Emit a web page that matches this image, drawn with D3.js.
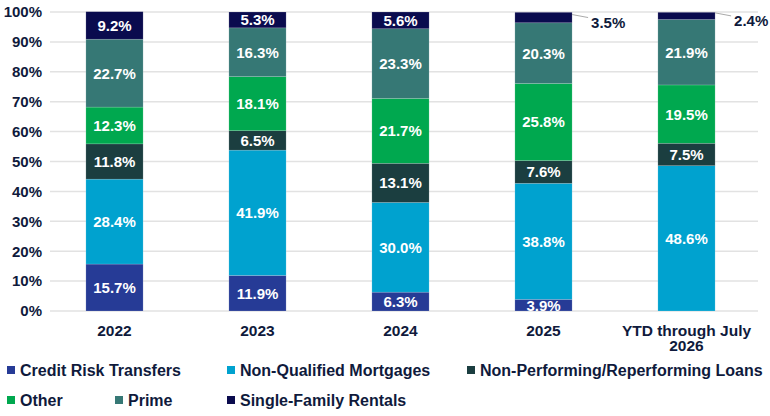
<!DOCTYPE html>
<html>
<head>
<meta charset="utf-8">
<script src="https://cdn.jsdelivr.net/npm/d3@7"></script>
<style>
  body { margin: 0; background: #fff; }
  svg { display: block; font-family: "Liberation Sans", Arial, sans-serif; font-weight: bold; }
  .tick text { font-family: "Liberation Sans", Arial, sans-serif; font-weight: bold; }
</style>
</head>
<body>
<svg id="chart" width="770" height="416"></svg>
<script>
const years = ["2022", "2023", "2024", "2025", "YTD through July 2026"];
const series = ["Credit Risk Transfers", "Non-Qualified Mortgages", "Non-Performing/Reperforming Loans", "Other", "Prime", "Single-Family Rentals"];
const colors = ["#263b96", "#00a2cf", "#1b3e40", "#00a84f", "#367875", "#0a0b4e"];

const crt   = [15.7, 11.9, 6.3, 3.9, 0];
const nqm   = [28.4, 41.9, 30.0, 38.8, 48.6];
const npl   = [11.8, 6.5, 13.1, 7.6, 7.5];
const other = [12.3, 18.1, 21.7, 25.8, 19.5];
const prime = [22.7, 16.3, 23.3, 20.3, 21.9];
const sfr   = [9.2, 5.3, 5.6, 3.5, 2.4];
const yTicks = [0, 10, 20, 30, 40, 50, 60, 70, 80, 90, 100];

const valueLists = [crt, nqm, npl, other, prime, sfr];
const rows = years.map((y, i) => {
  let r = {year: y};
  series.forEach((s, j) => r[s] = valueLists[j][i]);
  return r;
});

const svg = d3.select('#chart');
const margin = {left: 43, right: 12, top: 12, bottom: 105};
const W = 770, H = 416;
const ink = "#0f1a3c";

const x = d3.scaleBand().domain(years)
  .range([margin.left, W - margin.right]).paddingInner(0.6).paddingOuter(0.3);
const y = d3.scaleLinear().domain([0, 100]).range([H - margin.bottom, margin.top]);

// gridlines
svg.append('g').selectAll('line').data(yTicks).enter().append('line')
  .attr('x1', 50).attr('x2', 758)
  .attr('y1', d => y(d)).attr('y2', d => y(d))
  .attr('stroke', '#e2e2e2').attr('stroke-width', 1.5);

// y axis
const yAxis = d3.axisLeft(y).tickValues(yTicks).tickFormat(d => d + '%').tickSize(0).tickPadding(0);
svg.append('g').attr('transform', `translate(42,0)`)
  .call(yAxis)
  .call(g => g.select('.domain').remove())
  .selectAll('text').attr('fill', ink).style('font-size', '15px');

const stacked = d3.stack().keys(series)(rows);

const layers = svg.append('g').selectAll('g').data(stacked).enter().append('g')
  .attr('fill', (d, i) => colors[i]);

layers.selectAll('rect').data(d => d).enter().append('rect')
  .attr('x', d => x(d.data.year))
  .attr('y', d => y(d[1]))
  .attr('width', x.bandwidth())
  .attr('height', d => Math.max(0, y(d[0]) - y(d[1])))
  .attr('stroke', 'rgba(255,255,255,0.25)')
  .attr('stroke-width', 0.6);

// labels
const labels = [];
stacked.forEach((layer, i) => {
  layer.forEach(d => {
    const v = d[1] - d[0];
    if (v <= 0) return;
    labels.push({v: v, mid: (y(d[0]) + y(d[1])) / 2, year: d.data.year});
  });
});

const lab = svg.append('g').style('font-size', '15px');

// small slices get a leader line and an outside label
const inside = labels.filter(d => d.v >= 3.7);
const outside = labels.filter(d => d.v < 3.7);

lab.selectAll('text.in').data(inside).enter().append('text')
  .attr('class', 'in')
  .attr('x', d => x(d.year) + x.bandwidth() / 2)
  .attr('y', d => d.mid)
  .attr('dy', '0.36em')
  .attr('text-anchor', 'middle')
  .attr('fill', '#fff')
  .text(d => d.v.toFixed(1) + '%');

outside.forEach(d => {
  const x0 = x(d.year) + x.bandwidth();
  lab.append('line')
    .attr('x1', x0).attr('y1', d.mid - 3)
    .attr('x2', x0 + 16).attr('y2', d.mid)
    .attr('stroke', '#aaa').attr('stroke-width', 1);
  lab.append('text')
    .attr('x', x0 + 19).attr('y', d.mid + 5)
    .attr('dy', '0.36em')
    .attr('fill', ink)
    .text(d.v.toFixed(1) + '%');
});

// x axis labels
const xl = svg.append('g').style('font-size', '15.5px').attr('fill', ink);
years.forEach(yr => {
  const cx = x(yr) + x.bandwidth() / 2;
  const parts = yr.startsWith('YTD') ? ['YTD through July', '2026'] : [yr];
  parts.forEach((p, k) => {
    xl.append('text').attr('x', cx).attr('y', 330 + k * 15.5)
      .attr('dy', '0.36em')
      .attr('text-anchor', 'middle').text(p);
  });
});

// legend
const legendPos = [[7, 370], [227, 370], [467, 370], [7, 400], [115, 400], [227, 400]];
const leg = svg.append('g').style('font-size', '16px').attr('fill', ink);
series.forEach((s, i) => {
  const [lx, ly] = legendPos[i];
  leg.append('rect').attr('x', lx).attr('y', ly - 4).attr('width', 8).attr('height', 8)
    .attr('fill', colors[i]);
  leg.append('text').attr('x', lx + 13).attr('y', ly).attr('dy', '0.36em').text(s);
});
</script>
</body>
</html>
